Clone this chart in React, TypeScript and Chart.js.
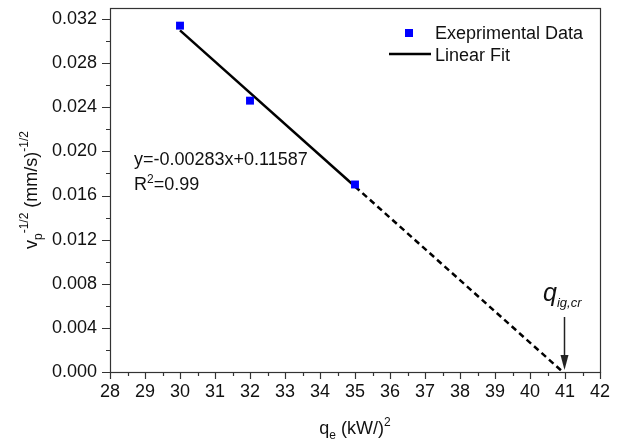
import React, { useEffect, useRef } from "react";
import { Chart, registerables } from "chart.js";

Chart.register(...registerables);

// ---- data ----
const expX = [30, 32, 35];
const expY = [0.0314, 0.0246, 0.017];
const fitSolidX = [30, 35];
const fitSolidY = [0.03097, 0.01682];
const fitDashX = [35, 40.94];
const fitDashY = [0.01682, 0.0];
const xTicks = [28, 29, 30, 31, 32, 33, 34, 35, 36, 37, 38, 39, 40, 41, 42];
const yTicks = [0, 0.004, 0.008, 0.012, 0.016, 0.02, 0.024, 0.028, 0.032];
const xMinorTicks = [28.5, 29.5, 30.5, 31.5, 32.5, 33.5, 34.5, 35.5, 36.5, 37.5, 38.5, 39.5, 40.5, 41.5];
const yMinorTicks = [0.002, 0.006, 0.01, 0.014, 0.018, 0.022, 0.026, 0.03];
const legendLabels = ["Exeprimental Data", "Linear Fit"];
const equationText = "y=-0.00283x+0.11587";
const r2Value = "=0.99";
const criticalX = 40.94;

const FONT = "'Liberation Sans', Arial, sans-serif";
const TXT = "#111111";
const FS = 18;
const FSS = 12;

function drawRuns(
  ctx: CanvasRenderingContext2D,
  runs: { t: string; size: number; dy: number; italic?: boolean }[],
  x: number,
  y: number,
  align: "left" | "center"
) {
  let total = 0;
  for (const r of runs) {
    ctx.font = `${r.italic ? "italic " : ""}${r.size}px ${FONT}`;
    total += ctx.measureText(r.t).width;
  }
  let cx = align === "center" ? x - total / 2 : x;
  for (const r of runs) {
    ctx.font = `${r.italic ? "italic " : ""}${r.size}px ${FONT}`;
    ctx.fillText(r.t, cx, y + r.dy);
    cx += ctx.measureText(r.t).width;
  }
}

const overlay = {
  id: "overlay",
  afterDraw(chart: any) {
    const { ctx, chartArea: a, scales } = chart;
    const xs = scales.x;
    const ys = scales.y;
    ctx.save();
    // frame
    ctx.strokeStyle = "#333333";
    ctx.lineWidth = 1.2;
    ctx.strokeRect(a.left + 0.5, a.top + 0.5, a.right - a.left, a.bottom - a.top);
    // ticks
    ctx.beginPath();
    for (const v of xTicks) {
      const px = Math.round(xs.getPixelForValue(v)) + 0.5;
      ctx.moveTo(px, a.bottom);
      ctx.lineTo(px, a.bottom + 7);
    }
    for (const v of xMinorTicks) {
      const px = Math.round(xs.getPixelForValue(v)) + 0.5;
      ctx.moveTo(px, a.bottom);
      ctx.lineTo(px, a.bottom + 4);
    }
    for (const v of yTicks) {
      const py = Math.round(ys.getPixelForValue(v)) + 0.5;
      ctx.moveTo(a.left, py);
      ctx.lineTo(a.left - 8, py);
    }
    for (const v of yMinorTicks) {
      const py = Math.round(ys.getPixelForValue(v)) + 0.5;
      ctx.moveTo(a.left, py);
      ctx.lineTo(a.left - 4, py);
    }
    ctx.stroke();

    ctx.fillStyle = TXT;
    ctx.textBaseline = "alphabetic";
    ctx.textAlign = "left";

    // x title
    drawRuns(
      ctx,
      [
        { t: "q", size: FS, dy: 0 },
        { t: "e", size: FSS, dy: 5 },
        { t: " (kW/)", size: FS, dy: 0 },
        { t: "2", size: FSS, dy: -8 },
      ],
      (a.left + a.right) / 2,
      434,
      "center"
    );

    // y title (rotated)
    ctx.save();
    ctx.translate(37, (a.top + a.bottom) / 2);
    ctx.rotate(-Math.PI / 2);
    drawRuns(
      ctx,
      [
        { t: "v", size: FS, dy: 0 },
        { t: "p", size: FSS, dy: 5 },
        { t: "-1/2", size: FSS, dy: -9 },
        { t: " (mm/s)", size: FS, dy: 0 },
        { t: "-1/2", size: FSS, dy: -9 },
      ],
      0,
      0,
      "center"
    );
    ctx.restore();

    // legend
    ctx.fillStyle = "#0000ff";
    ctx.fillRect(405, 29, 8, 8);
    ctx.strokeStyle = "#000";
    ctx.lineWidth = 2.5;
    ctx.beginPath();
    ctx.moveTo(389, 54);
    ctx.lineTo(431, 54);
    ctx.stroke();
    ctx.fillStyle = TXT;
    ctx.font = `${FS}px ${FONT}`;
    ctx.fillText(legendLabels[0], 435, 39);
    ctx.fillText(legendLabels[1], 435, 61);

    // equation
    ctx.font = `${FS}px ${FONT}`;
    ctx.fillText(equationText, 134, 165);
    drawRuns(
      ctx,
      [
        { t: "R", size: FS, dy: 0 },
        { t: "2", size: FSS, dy: -7 },
        { t: r2Value, size: FS, dy: 0 },
      ],
      134,
      190,
      "left"
    );

    // q_ig,cr annotation
    const ax = Math.round(xs.getPixelForValue(criticalX)) + 0.5 + 1;
    drawRuns(
      ctx,
      [
        { t: "q", size: 25, dy: 0, italic: true },
        { t: "ig,cr", size: 13, dy: 6, italic: true },
      ],
      543,
      301,
      "left"
    );
    ctx.strokeStyle = "#222";
    ctx.lineWidth = 1.5;
    ctx.beginPath();
    ctx.moveTo(ax, 317);
    ctx.lineTo(ax, 358);
    ctx.stroke();
    ctx.fillStyle = "#222";
    ctx.beginPath();
    ctx.moveTo(ax - 4, 355);
    ctx.lineTo(ax + 4, 355);
    ctx.lineTo(ax, 370);
    ctx.closePath();
    ctx.fill();

    ctx.restore();
  },
};

export default function App() {
  const ref = useRef<HTMLCanvasElement | null>(null);
  useEffect(() => {
    if (!ref.current) return;
    const chart = new Chart(ref.current, {
      type: "scatter",
      data: {
        datasets: [
          {
            label: legendLabels[1],
            data: fitSolidX.map((x, i) => ({ x, y: fitSolidY[i] })),
            showLine: true,
            borderColor: "#000",
            borderWidth: 2.5,
            pointRadius: 0,
            order: 2,
          },
          {
            label: "dash",
            data: fitDashX.map((x, i) => ({ x, y: fitDashY[i] })),
            showLine: true,
            borderColor: "#000",
            borderWidth: 2.5,
            borderDash: [6, 4],
            pointRadius: 0,
            order: 2,
          },
          {
            label: legendLabels[0],
            data: expX.map((x, i) => ({ x, y: expY[i] })),
            showLine: false,
            pointStyle: "rect",
            pointRadius: 5.6,
            backgroundColor: "#0000ff",
            borderColor: "#0000ff",
            borderWidth: 0,
            order: 1,
          },
        ],
      },
      options: {
        responsive: false,
        animation: false,
        devicePixelRatio: 1,
        layout: { padding: { top: 8, right: 18, left: 0, bottom: 0 } },
        plugins: { legend: { display: false }, tooltip: { enabled: false } },
        scales: {
          x: {
            type: "linear",
            min: 28,
            max: 42,
            grid: { display: false, drawTicks: false },
            border: { display: false },
            afterBuildTicks: (s: any) => {
              s.ticks = xTicks.map((v) => ({ value: v }));
            },
            afterFit: (s: any) => {
              s.height = 73;
              s.paddingLeft = 0;
              s.paddingRight = 0;
              s.paddingTop = 0;
              s.paddingBottom = 0;
            },
            ticks: {
              padding: 9,
              color: TXT,
              font: { family: FONT, size: FS },
              maxRotation: 0,
              autoSkip: false,
              callback: (v: any) => String(v),
            },
          },
          y: {
            type: "linear",
            min: 0,
            max: 0.033,
            grid: { display: false, drawTicks: false },
            border: { display: false },
            afterBuildTicks: (s: any) => {
              s.ticks = yTicks.map((v) => ({ value: v }));
            },
            afterFit: (s: any) => {
              s.width = 110;
              s.paddingLeft = 0;
              s.paddingRight = 0;
              s.paddingTop = 0;
              s.paddingBottom = 0;
            },
            ticks: {
              padding: 13,
              color: TXT,
              font: { family: FONT, size: FS },
              autoSkip: false,
              callback: (v: any) => Number(v).toFixed(3),
            },
          },
        },
      },
      plugins: [overlay],
    });
    return () => chart.destroy();
  }, []);
  return (
    <div style={{ position: "fixed", left: 0, top: 0, width: 618, height: 445, background: "#fff" }}>
      <canvas ref={ref} width={618} height={445} style={{ display: "block" }} />
    </div>
  );
}
